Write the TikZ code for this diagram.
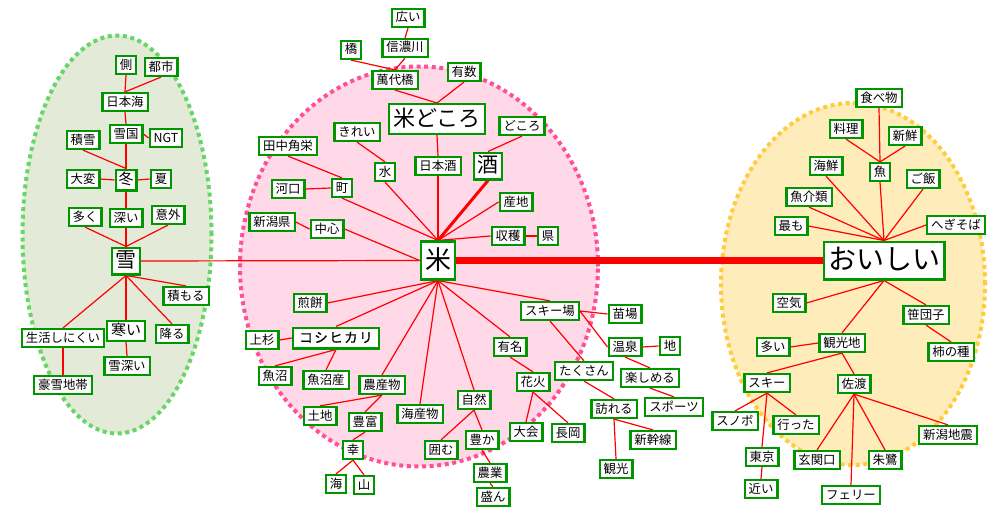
\documentclass[tikz,border=0pt]{standalone}
\usepackage{fontspec}
\setmainfont{Noto Sans CJK JP}
\usepackage{tikz}
\usetikzlibrary{positioning}
\definecolor{boxgreen}{RGB}{0,150,0}
\definecolor{snowfill}{RGB}{227,234,216}
\definecolor{snowedge}{RGB}{102,214,102}
\definecolor{ricefill}{RGB}{255,217,232}
\definecolor{riceedge}{RGB}{255,80,150}
\definecolor{tastefill}{RGB}{255,236,187}
\definecolor{tasteedge}{RGB}{255,204,60}
\pgfdeclarelayer{blob}
\pgfdeclarelayer{links}
\pgfsetlayers{blob,links,main}

\begin{document}
\begin{tikzpicture}[
    x=1pt, y=-1pt,
    word/.style={rectangle, draw=boxgreen, line width=2.2pt, fill=white,
        font=\fontsize{12.4}{14}\selectfont, inner xsep=4pt, inner ysep=3pt,
        text height=10pt, text depth=2pt},
    midword/.style={word, font=\fontsize{15}{18}\selectfont,
        inner xsep=3.9pt, inner ysep=2.4pt, text height=12pt, text depth=3pt},
    bigword/.style={word, font=\fontsize{21}{25}\selectfont,
        inner xsep=3.4pt, inner ysep=2.9pt, text height=17pt, text depth=4pt},
    titleword/.style={word, font=\fontsize{22}{26}\selectfont,
        inner xsep=4.4pt, inner ysep=3.9pt, text height=18pt, text depth=4pt},
    hubword/.style={word, font=\fontsize{26}{30}\selectfont,
        inner xsep=4.3pt, inner ysep=6.5pt, text height=21pt, text depth=4pt},
    tasteword/.style={word, font=\fontsize{28}{32}\selectfont,
        inner xsep=4.4pt, inner ysep=5.4pt, text height=22pt, text depth=5pt},
    link/.style={red, line width=1.2pt},
    blobline/.style={line width=4pt, dash pattern=on 4pt off 3.6pt}
]
\useasboundingbox (0,0) rectangle (1000,519);

% === CLUSTERS ===
\begin{pgfonlayer}{blob}
    \path[fill=snowfill, draw=snowedge, blobline] (117,234.5) ellipse [x radius=94.5pt, y radius=199pt];
    \path[fill=ricefill, draw=riceedge, blobline] (419,266.5) ellipse [x radius=179pt, y radius=200pt];
    \path[fill=tastefill, draw=tasteedge, blobline] (853,284) ellipse [x radius=132pt, y radius=181pt];
\end{pgfonlayer}

% === SNOW ===
\node[word] (soba) at (126,65) {側};
\node[word] (toshi) at (161,67) {都市};
\node[word] (nihonkai) at (125,102) {日本海};
\node[word] (yukiguni) at (126,134) {雪国};
\node[word] (ngt) at (166,138) {NGT};
\node[word] (sekisetsu) at (83,140) {積雪};
\node[midword, inner xsep=2.9pt, inner ysep=2.9pt] (fuyu) at (126,180) {冬};
\node[word] (taihen) at (83,179) {大変};
\node[word] (natsu) at (161,179) {夏};
\node[word] (ooku) at (85,217) {多く};
\node[word] (fukai) at (126,218) {深い};
\node[word] (igai) at (168,215) {意外};
\node[bigword] (yuki) at (126,261) {雪};
\node[word] (tsumoru) at (186,296) {積もる};
\node[word] (seikatsu) at (63,338) {生活しにくい};
\node[midword] (samui) at (126,331) {寒い};
\node[word] (furu) at (172,334) {降る};
\node[word] (yukibukai) at (127,366) {雪深い};
\node[word] (gousetsu) at (63,385) {豪雪地帯};

% === RICE, upper half ===
\node[word] (hiroi) at (408,18) {広い};
\node[word] (shinano) at (405,48) {信濃川};
\node[word] (hashi) at (351,50) {橋};
\node[word] (bandai) at (395,80) {萬代橋};
\node[word] (yusu) at (464,72) {有数};
\node[titleword] (komedokoro) at (437,119) {米どころ};
\node[word] (dokoro) at (522,126) {どころ};
\node[word] (kirei) at (357,132) {きれい};
\node[word] (kakuei) at (288,146) {田中角栄};
\node[word] (nihonshu) at (438,166) {日本酒};
\node[bigword] (sake) at (488,166) {酒};
\node[word] (mizu) at (385,172) {水};
\node[word] (kakou) at (288,189) {河口};
\node[word] (machi) at (342,188) {町};
\node[word] (sanchi) at (516,202) {産地};
\node[word] (niigataken) at (272,222) {新潟県};
\node[word] (chushin) at (327,229) {中心};
\node[word] (shukaku) at (508,236) {収穫};
\node[word] (ken) at (548,236) {県};
\node[hubword] (kome) at (438,260.5) {米};

% === RICE, lower half ===
\node[word] (senbei) at (310,303) {煎餅};
\node[word] (uesugi) at (262,340) {上杉};
\node[midword, font=\fontsize{13.5}{16}\selectfont\addfontfeature{LetterSpace=11,FakeBold=0.8},
    minimum width=86pt, inner ysep=2.9pt] (koshi) at (336,338) {コシヒカリ};
\node[word] (uonuma) at (275,376) {魚沼};
\node[word] (uonumasan) at (326,380) {魚沼産};
\node[word] (nousan) at (382,385) {農産物};
\node[word] (tochi) at (320,416) {土地};
\node[word] (houfu) at (365,422) {豊富};
\node[word] (kaisan) at (420,414) {海産物};
\node[word] (shizen) at (474,400) {自然};
\node[word] (yumei) at (510,347) {有名};
\node[word] (kakomu) at (441,450) {囲む};
\node[word] (yutaka) at (482,440) {豊か};
\node[word] (sachi) at (353,450) {幸};
\node[word] (umi) at (336,484) {海};
\node[word] (yama) at (364,485) {山};
\node[word] (nougyou) at (490,473) {農業};
\node[word] (sakan) at (493,497) {盛ん};
\node[word] (skijo) at (550,311) {スキー場};
\node[word] (naeba) at (625,314) {苗場};
\node[word] (onsen) at (625,347) {温泉};
\node[word] (chi) at (670,346) {地};
\node[word] (takusan) at (584,371) {たくさん};
\node[word] (tanoshimeru) at (650,378) {楽しめる};
\node[word] (hanabi) at (533,382) {花火};
\node[word] (otozureru) at (614,409) {訪れる};
\node[word] (sports) at (674,407) {スポーツ};
\node[word] (taikai) at (526,432) {大会};
\node[word] (nagaoka) at (568,433) {長岡};
\node[word] (shinkansen) at (653,440) {新幹線};
\node[word] (kankou) at (616,469) {観光};

% === TASTE ===
\node[word] (tabemono) at (879,98) {食べ物};
\node[word] (ryouri) at (846,129) {料理};
\node[word] (shinsen) at (905,136) {新鮮};
\node[word] (kaisen) at (826,166) {海鮮};
\node[word] (sakana) at (880,172) {魚};
\node[word] (gohan) at (923,179) {ご飯};
\node[word] (gyokai) at (809,197) {魚介類};
\node[word] (mottomo) at (791,226) {最も};
\node[word] (hegisoba) at (956,225) {へぎそば};
\node[tasteword] (oishii) at (884,260.5) {おいしい};
\node[word] (kuuki) at (789,303) {空気};
\node[word] (sasadango) at (926,315) {笹団子};
\node[word] (ooi) at (773,347) {多い};
\node[word] (kankouchi) at (842,343) {観光地};
\node[word] (kakinotane) at (951,352) {柿の種};
\node[word] (ski) at (767,383) {スキー};
\node[word] (sado) at (854,384) {佐渡};
\node[word] (snobo) at (735,421) {スノボ};
\node[word] (itta) at (796,425) {行った};
\node[word] (jishin) at (948,435) {新潟地震};
\node[word] (tokyo) at (762,457) {東京};
\node[word] (genkan) at (817,460) {玄関口};
\node[word] (toki) at (885,460) {朱鷺};
\node[word] (chikai) at (761,489) {近い};
\node[word] (ferry) at (851,495) {フェリー};

% Links
\begin{pgfonlayer}{links}
    % snow
    \draw[link] (soba.south) -- (nihonkai.north);
    \draw[link] (toshi.south) -- (nihonkai.north);
    \draw[link] (nihonkai.south) -- (yukiguni.north);
    \draw[link] (yukiguni.east) -- (ngt.west);
    \draw[link] (yukiguni.south) -- (fuyu.north);
    \draw[link] (sekisetsu.south) -- (fuyu.north);
    \draw[link] (taihen.east) -- (fuyu.west);
    \draw[link] (natsu.west) -- (fuyu.east);
    \draw[link] (fuyu.south) -- (fukai.north);
    \draw[link] (ooku.south) -- (yuki.north);
    \draw[link] (fukai.south) -- (yuki.north);
    \draw[link] (igai.south) -- (yuki.north);
    \draw[link] (yuki.south) -- (tsumoru.north);
    \draw[link] (yuki.south) -- (samui.north);
    \draw[link] (yuki.south) -- (furu.north);
    \draw[link] (yuki.south) -- (seikatsu.north);
    \draw[link] (samui.south) -- (yukibukai.north);
    \draw[link] (seikatsu.south) -- (gousetsu.north);
    \draw[link] (yuki.east) -- (kome.west);
    % rice, upper half
    \draw[link] (hiroi.south) -- (shinano.north);
    \draw[link] (shinano.south) -- (bandai.north);
    \draw[link] (hashi.south) -- (bandai.north);
    \draw[link] (bandai.south) -- (komedokoro.north);
    \draw[link] (yusu.south) -- (komedokoro.north);
    \draw[link] (komedokoro.south) -- (nihonshu.north);
    \draw[link] (nihonshu.south) -- (kome.north);
    \draw[link] (dokoro.south) -- (sake.north);
    \draw[link, line width=3pt] (sake.south) -- (kome.north);
    \draw[link] (kirei.south) -- (mizu.north);
    \draw[link] (mizu.south) -- (kome.north);
    \draw[link] (kakuei.south) -- (machi.north);
    \draw[link] (kakou.east) -- (machi.west);
    \draw[link] (machi.south) -- (kome.north);
    \draw[link] (niigataken.east) -- (chushin.west);
    \draw[link] (chushin.east) -- (kome.west);
    \draw[link] (sanchi.west) -- (kome.north);
    \draw[link] (shukaku.west) -- (kome.north);
    \draw[link] (shukaku.east) -- (ken.west);
    % rice, lower half
    \draw[link] (kome.south) -- (senbei.east);
    \draw[link] (kome.south) -- (koshi.north);
    \draw[link] (uesugi.east) -- (koshi.west);
    \draw[link] (koshi.south) -- (uonuma.north);
    \draw[link] (koshi.south) -- (uonumasan.north);
    \draw[link] (kome.south) -- (nousan.north);
    \draw[link] (nousan.south) -- (tochi.north);
    \draw[link] (nousan.south) -- (houfu.north);
    \draw[link] (houfu.south) -- (sachi.north);
    \draw[link] (sachi.south) -- (umi.north);
    \draw[link] (sachi.south) -- (yama.north);
    \draw[link] (kome.south) -- (kaisan.north);
    \draw[link] (kome.south) -- (shizen.north);
    \draw[link] (shizen.south) -- (kakomu.north);
    \draw[link] (shizen.south) -- (yutaka.north);
    \draw[link] (yutaka.south) -- (nougyou.north);
    \draw[link] (nougyou.south) -- (sakan.north);
    \draw[link] (kome.south) -- (yumei.north);
    \draw[link] (yumei.south) -- (hanabi.north);
    \draw[link] (hanabi.south) -- (taikai.north);
    \draw[link] (hanabi.south) -- (nagaoka.north);
    \draw[link] (kome.south) -- (skijo.north);
    \draw[link] (skijo.south) -- (takusan.north);
    \draw[link] (skijo.east) -- (naeba.west);
    \draw[link] (skijo.east) -- (onsen.west);
    \draw[link] (onsen.east) -- (chi.west);
    \draw[link] (onsen.south) -- (tanoshimeru.north);
    \draw[link] (tanoshimeru.south) -- (sports.north);
    \draw[link] (takusan.south) -- (otozureru.north);
    \draw[link] (otozureru.south) -- (shinkansen.north);
    \draw[link] (otozureru.south) -- (kankou.north);
    \draw[link, line width=6.5pt] (kome.east) -- (oishii.west);
    % taste
    \draw[link] (tabemono.south) -- (sakana.north);
    \draw[link] (ryouri.south) -- (sakana.north);
    \draw[link] (shinsen.south) -- (sakana.north);
    \draw[link] (sakana.south) -- (oishii.north);
    \draw[link] (kaisen.south) -- (oishii.north);
    \draw[link] (gyokai.south) -- (oishii.north);
    \draw[link] (mottomo.east) -- (oishii.north);
    \draw[link] (gohan.south) -- (oishii.north);
    \draw[link] (hegisoba.west) -- (oishii.north);
    \draw[link] (oishii.south) -- (kuuki.east);
    \draw[link] (oishii.south) -- (sasadango.north);
    \draw[link] (oishii.south) -- (kankouchi.north);
    \draw[link] (ooi.east) -- (kankouchi.west);
    \draw[link] (sasadango.south) -- (kakinotane.north);
    \draw[link] (kankouchi.south) -- (ski.north);
    \draw[link] (kankouchi.south) -- (sado.north);
    \draw[link] (ski.south) -- (snobo.north);
    \draw[link] (ski.south) -- (itta.north);
    \draw[link] (ski.south) -- (tokyo.north);
    \draw[link] (tokyo.south) -- (chikai.north);
    \draw[link] (sado.south) -- (genkan.north);
    \draw[link] (sado.south) -- (ferry.north);
    \draw[link] (sado.south) -- (toki.north);
    \draw[link] (sado.south) -- (jishin.north);
\end{pgfonlayer}

\end{tikzpicture}
\end{document}
